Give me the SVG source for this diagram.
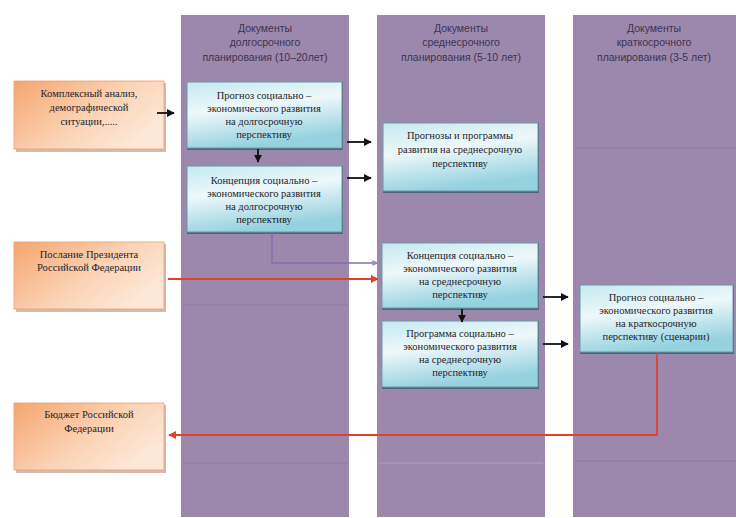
<svg xmlns="http://www.w3.org/2000/svg" width="736" height="518" viewBox="0 0 736 518">
<defs>
<linearGradient id="gCyan" x1="0" y1="0" x2="0.3" y2="1">
<stop offset="0" stop-color="#c4e9f1"/>
<stop offset="0.45" stop-color="#eef8fa"/>
<stop offset="1" stop-color="#95d1df"/>
</linearGradient>
<linearGradient id="gOrange" x1="0" y1="0" x2="1" y2="0.6">
<stop offset="0" stop-color="#f5a56f"/>
<stop offset="0.6" stop-color="#fbd3b5"/>
<stop offset="1" stop-color="#fde8d8"/>
</linearGradient>
<marker id="ab" viewBox="0 0 10 10" refX="9" refY="5" markerWidth="4.5" markerHeight="4.5" orient="auto"><path d="M0,0 L10,5 L0,10 z" fill="#111"/></marker>
<marker id="ar" viewBox="0 0 10 10" refX="9" refY="5" markerWidth="4.5" markerHeight="4.5" orient="auto"><path d="M0,0 L10,5 L0,10 z" fill="#e0412f"/></marker>
<marker id="al" viewBox="0 0 10 10" refX="9" refY="5" markerWidth="4.5" markerHeight="4.5" orient="auto"><path d="M0,0 L10,5 L0,10 z" fill="#9c90c4"/></marker>
</defs>
<style>
.col{fill:#9d88ad}
.sep{stroke:#8a779c;stroke-width:1.5;opacity:0.6}
.sepl{stroke:#b19ec0;stroke-width:1.5;opacity:0.7}
.hdr{font-family:"Liberation Sans","DejaVu Sans",sans-serif;font-size:10.5px;fill:#3b3350;text-anchor:middle}
.bx{fill:url(#gCyan);stroke:#6e95a8;stroke-width:1}
.shb{fill:#4d6577}
.ob{fill:url(#gOrange);stroke:#e9a070;stroke-width:0.8}
.sho{fill:#b68f78;opacity:0.6}
.t{font-family:"Liberation Serif","DejaVu Serif",serif;font-size:10.5px;fill:#1e1e2c;text-anchor:middle}
.cb{stroke:#111;stroke-width:1.8;fill:none;marker-end:url(#ab)}
.cr{stroke:#e0412f;stroke-width:1.8;fill:none;marker-end:url(#ar)}
.cl{stroke:#7d72a8;stroke-width:1.4;fill:none;marker-end:url(#al)}
</style>
<rect x="0" y="0" width="736" height="518" fill="#ffffff"/>

<g id="col-long">
<rect class="col" x="181" y="15" width="168" height="502"/>
<line class="sep" x1="183" y1="305" x2="347" y2="305"/>
<line class="sep" x1="183" y1="463" x2="347" y2="463"/>
<text class="hdr" x="265" y="32">Документы</text>
<text class="hdr" x="265" y="46">долгосрочного</text>
<text class="hdr" x="265" y="61">планирования (10–20лет)</text>
</g>
<g id="col-mid">
<rect class="col" x="377" y="15" width="168" height="502"/>
<line class="sepl" x1="379" y1="463" x2="543" y2="463"/>
<text class="hdr" x="461" y="32">Документы</text>
<text class="hdr" x="461" y="46">среднесрочного</text>
<text class="hdr" x="461" y="61">планирования (5-10 лет)</text>
</g>
<g id="col-short">
<rect class="col" x="573" y="15" width="163" height="502"/>
<line class="sep" x1="576" y1="148" x2="736" y2="148"/>
<line class="sep" x1="576" y1="461" x2="736" y2="461"/>
<text class="hdr" x="654" y="32">Документы</text>
<text class="hdr" x="654" y="46">краткосрочного</text>
<text class="hdr" x="654" y="61">планирования (3-5 лет)</text>
</g>

<g id="analysis">
<rect class="sho" x="16" y="83" width="150" height="69"/>
<rect class="ob" x="14" y="81" width="150" height="68"/>
<text class="t" x="89" y="97">Комплексный анализ,</text>
<text class="t" x="89" y="111">демографической</text>
<text class="t" x="89" y="125">ситуации,.....</text>
</g>
<g id="message">
<rect class="sho" x="16" y="244" width="150" height="68"/>
<rect class="ob" x="14" y="242" width="150" height="67"/>
<text class="t" x="89" y="258">Послание Президента</text>
<text class="t" x="89" y="271">Российской Федерации</text>
</g>
<g id="budget">
<rect class="sho" x="16" y="405" width="150" height="68"/>
<rect class="ob" x="14" y="403" width="150" height="67"/>
<text class="t" x="89" y="418">Бюджет Российской</text>
<text class="t" x="89" y="432">Федерации</text>
</g>

<g id="forecast-long">
<rect class="shb" x="187" y="82" width="156" height="68"/>
<rect class="bx" x="187" y="82" width="155" height="66"/>
<text class="t" x="264" y="99">Прогноз социально –</text>
<text class="t" x="264" y="112">экономического развития</text>
<text class="t" x="264" y="125">на долгосрочную</text>
<text class="t" x="264" y="138">перспективу</text>
</g>
<g id="concept-long">
<rect class="shb" x="187" y="166" width="156" height="68"/>
<rect class="bx" x="187" y="166" width="155" height="66"/>
<text class="t" x="264" y="184">Концепция социально –</text>
<text class="t" x="264" y="197">экономического развития</text>
<text class="t" x="264" y="210">на долгосрочную</text>
<text class="t" x="264" y="223">перспективу</text>
</g>
<g id="programs-mid">
<rect class="shb" x="383" y="123" width="156" height="70"/>
<rect class="bx" x="383" y="123" width="155" height="68"/>
<text class="t" x="460" y="139">Прогнозы и программы</text>
<text class="t" x="460" y="153">развития на среднесрочную</text>
<text class="t" x="460" y="167">перспективу</text>
</g>
<g id="concept-mid">
<rect class="shb" x="382" y="243" width="157" height="67"/>
<rect class="bx" x="382" y="243" width="156" height="65"/>
<text class="t" x="460" y="259">Концепция социально –</text>
<text class="t" x="460" y="272">экономического развития</text>
<text class="t" x="460" y="285">на среднесрочную</text>
<text class="t" x="460" y="298">перспективу</text>
</g>
<g id="program-mid">
<rect class="shb" x="382" y="321" width="157" height="68"/>
<rect class="bx" x="382" y="321" width="156" height="66"/>
<text class="t" x="460" y="337">Программа социально –</text>
<text class="t" x="460" y="350">экономического развития</text>
<text class="t" x="460" y="363">на среднесрочную</text>
<text class="t" x="460" y="376">перспективу</text>
</g>
<g id="forecast-short">
<rect class="shb" x="580" y="285" width="154" height="69"/>
<rect class="bx" x="580" y="285" width="153" height="67"/>
<text class="t" x="656" y="301">Прогноз социально –</text>
<text class="t" x="656" y="314">экономического развития</text>
<text class="t" x="656" y="327">на краткосрочную</text>
<text class="t" x="656" y="340">перспективу (сценарии)</text>
</g>

<g id="connectors">
<line class="cb" x1="157" y1="113" x2="174" y2="113"/>
<line class="cb" x1="258" y1="149" x2="258" y2="162"/>
<line class="cb" x1="347" y1="142" x2="371" y2="142"/>
<line class="cb" x1="347" y1="178" x2="371" y2="178"/>
<polyline class="cl" points="272,233 272,263 378,263"/>
<line class="cr" x1="168" y1="279" x2="378" y2="279"/>
<line class="cb" x1="462" y1="309" x2="462" y2="322"/>
<line class="cb" x1="543" y1="297" x2="568" y2="297"/>
<line class="cb" x1="543" y1="344" x2="568" y2="344"/>
<polyline class="cr" points="657,353 657,435 169,435"/>
</g>
</svg>
